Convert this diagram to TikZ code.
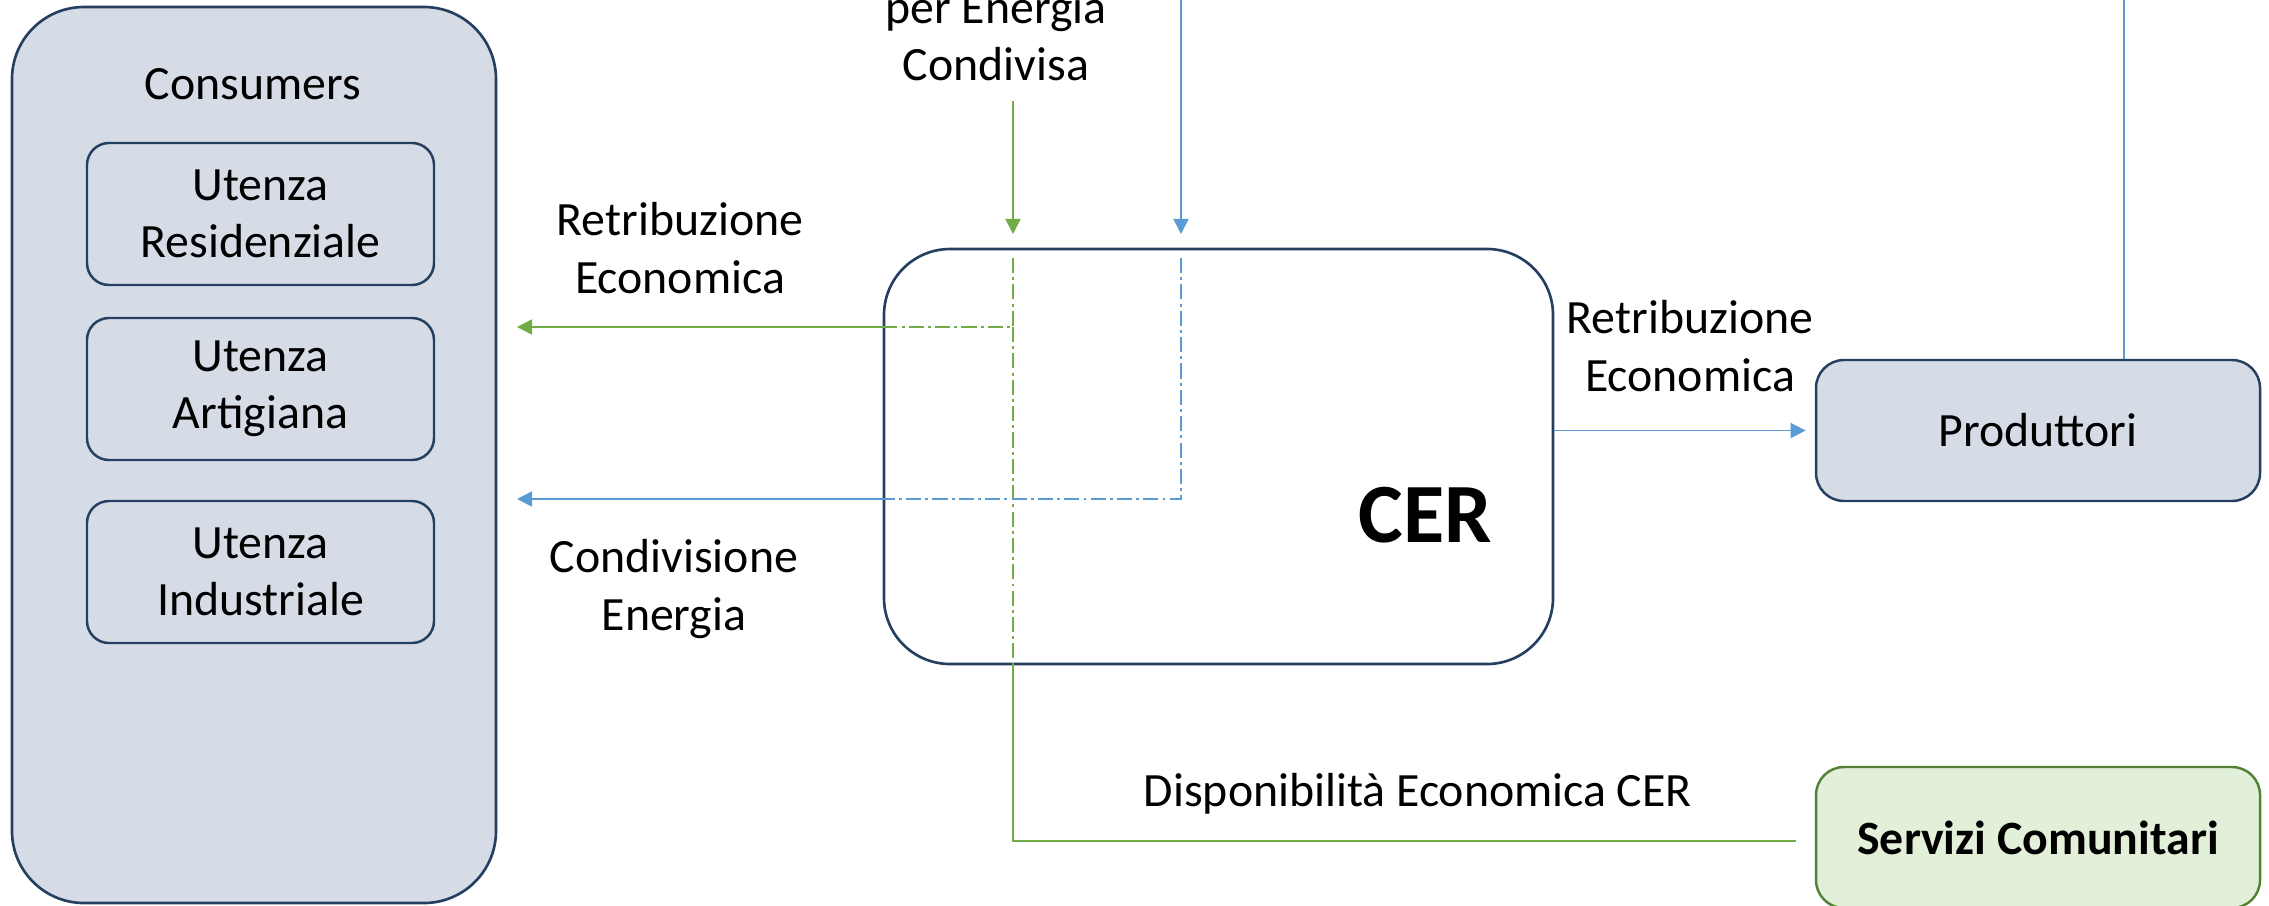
\documentclass[tikz,border=0pt]{standalone}
\usepackage{fontspec}
\setmainfont{Carlito}
\usetikzlibrary{arrows.meta}
\definecolor{boxline}{HTML}{243F60}
\definecolor{boxfill}{HTML}{D6DCE5}
\definecolor{svcline}{HTML}{548235}
\definecolor{svcfill}{HTML}{E2F0D9}
\definecolor{flowblue}{HTML}{5B9BD5}
\definecolor{flowgreen}{HTML}{70AD47}
\begin{document}
\begin{tikzpicture}[font=\fontsize{13.6}{16.3}\selectfont]
    \tikzstyle{box}=[draw=boxline,fill=boxfill,line width=0.7pt,rounded corners=0.22cm,align=center]
    \tikzstyle{lbl}=[align=center]
    \tikzstyle{flow}=[line width=0.45pt,-{Triangle[length=4.3pt,width=4.3pt]}]
    \tikzstyle{dashdot}=[line width=0.45pt,dash pattern=on 4.3pt off 1.2pt on 0.8pt off 1.2pt]
    \useasboundingbox (0,0) rectangle (22.69,9.05);
    \clip (0,0) rectangle (22.69,9.05);

      \node (C) at (2.54,4.50) [box,line width=0.75pt,rounded corners=0.72cm,minimum width=4.84cm,minimum height=8.96cm] {};
      \node (Ct) at (2.53,8.21) [lbl] {Consumers};
      \node (R) at (2.605,6.91) [box,minimum width=3.47cm,minimum height=1.42cm] {Utenza\\Residenziale};
      \node (A) at (2.605,5.16) [box,minimum width=3.47cm,minimum height=1.42cm] {Utenza\\Artigiana};
      \node (I) at (2.605,3.33) [box,minimum width=3.47cm,minimum height=1.42cm] {Utenza\\Industriale};

      \node (CER) at (12.185,4.485) [box,fill=white,line width=0.75pt,rounded corners=0.66cm,minimum width=6.69cm,minimum height=4.15cm] {};
      \node (CERt) at (14.25,3.90) [font=\fontsize{24}{28}\selectfont\bfseries] {CER};

      \node (P) at (20.38,4.745) [box,rounded corners=0.28cm,minimum width=4.44cm,minimum height=1.41cm] {Produttori};
      \node (S) at (20.38,0.675) [box,draw=svcline,fill=svcfill,rounded corners=0.28cm,minimum width=4.44cm,minimum height=1.41cm,font=\fontsize{13.6}{16.3}\selectfont\bfseries] {Servizi Comunitari};

      \coordinate (gtop) at (10.13,8.04);
      \coordinate (gin) at (10.13,6.71);
      \coordinate (gs) at (10.13,6.47);
      \coordinate (gk) at (10.13,5.78);
      \coordinate (gl) at (5.17,5.78);
      \coordinate (gend) at (17.96,0.64);
      \coordinate (bup) at (21.24,9.60);
      \coordinate (bin) at (11.81,6.71);
      \coordinate (bs) at (11.81,6.47);
      \coordinate (bk) at (11.81,4.06);
      \coordinate (bl) at (5.17,4.06);

      \path[flow,draw=flowgreen] (gtop) -- (gin);
      \path[flow,draw=flowblue] (P.north -| bup) -- (bup) -| (bin);

      \path[dashdot,draw=flowgreen] (gs) -- (gk) -- (CER.west |- gk);
      \path[flow,draw=flowgreen] (CER.west |- gk) -- (gl);
      \path[dashdot,draw=flowgreen] (gk) -- (CER.south -| gk);
      \path[line width=0.45pt,draw=flowgreen] (CER.south -| gk) |- (gend);

      \path[dashdot,draw=flowblue] (bs) -- (bk) -- (CER.west |- bk);
      \path[flow,draw=flowblue] (CER.west |- bk) -- (bl);
      \path[flow,draw=flowblue,shorten >=2.6pt] (CER.east |- P) -- (P.west);

      \node (l1) at (9.96,8.695) [lbl] {per Energia\\Condivisa};
      \node (l2) at (6.80,6.57) [lbl] {Retribuzione\\Economica};
      \node (l3) at (6.74,3.16) [lbl] {Condivisione\\Energia};
      \node (l4) at (16.90,5.59) [lbl] {Retribuzione\\Economica};
      \node (l5) at (14.18,1.11) [lbl] {Disponibilità Economica CER};
  \end{tikzpicture}
\end{document}
